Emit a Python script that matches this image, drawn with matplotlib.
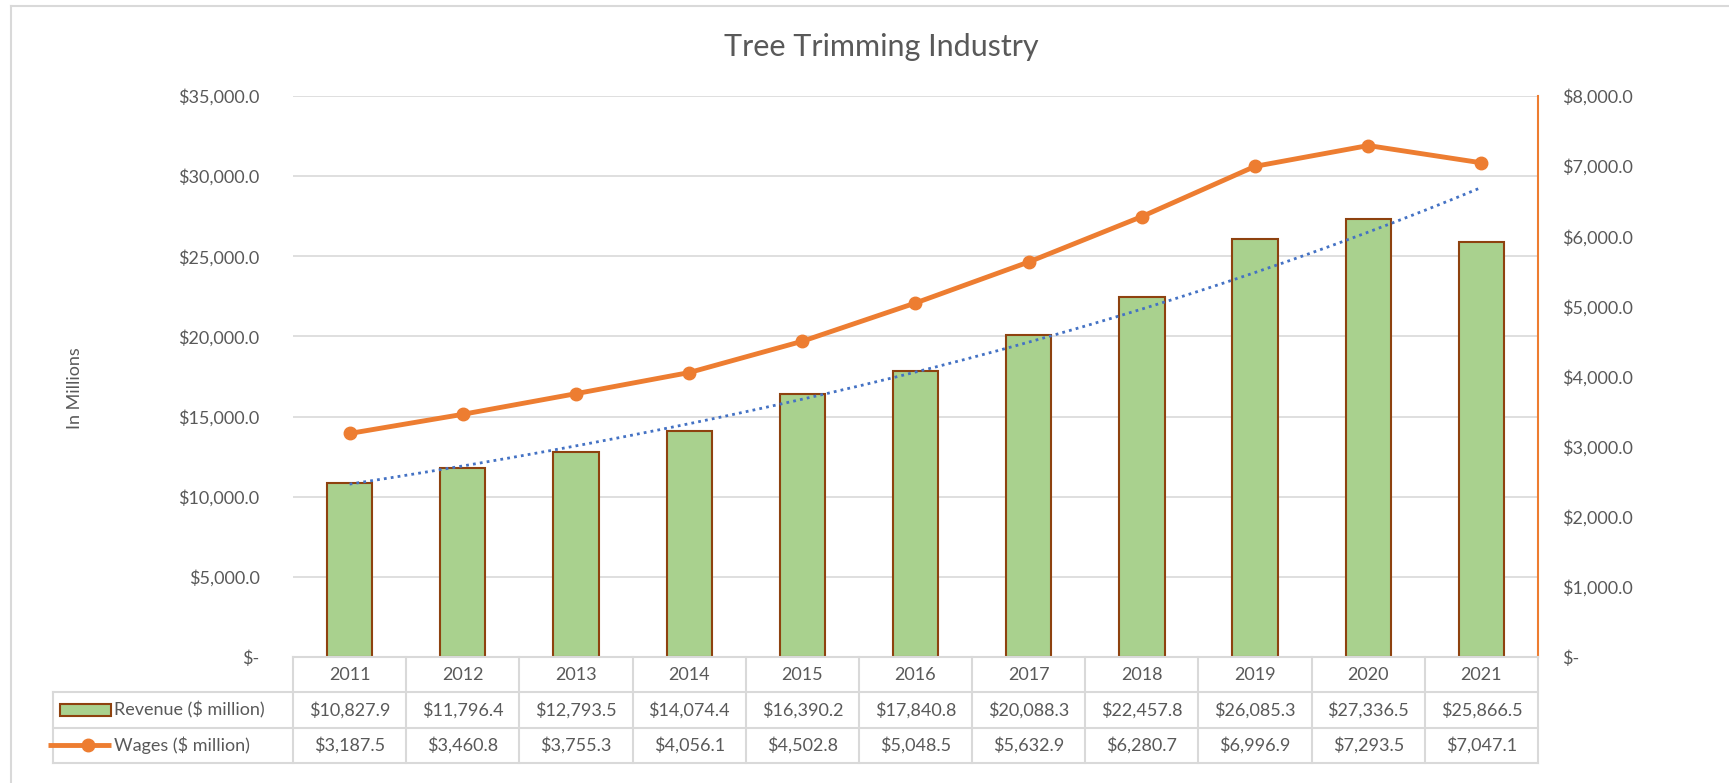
import numpy as np
import matplotlib.pyplot as plt
from matplotlib.lines import Line2D
from matplotlib.patches import Rectangle

plt.rcParams['font.family'] = ['Lato', 'DejaVu Sans']

years = ['2011', '2012', '2013', '2014', '2015', '2016', '2017', '2018', '2019', '2020', '2021']
revenue = [10827.9, 11796.4, 12793.5, 14074.4, 16390.2, 17840.8, 20088.3, 22457.8, 26085.3, 27336.5, 25866.5]
wages = [3187.5, 3460.8, 3755.3, 4056.1, 4502.8, 5048.5, 5632.9, 6280.7, 6996.9, 7293.5, 7047.1]

GREEN = '#A9D18E'
BROWN = '#8E420F'
ORANGE = '#ED7D31'
BLUE = '#4472C4'
GRID = '#D9D9D9'
TXT = '#595959'


def money(v):
    if v == 0:
        return '$-'
    return '${:,.1f}'.format(v)


W, H = 1729, 783
fig = plt.figure(figsize=(W / 100, H / 100), dpi=100)

# chart area outline (top and left edges)
fig.add_artist(Line2D([11 / W, 11 / W], [0, 1 - 6 / H], color=GRID, lw=1.5))
fig.add_artist(Line2D([11 / W, 1], [1 - 6 / H, 1 - 6 / H], color=GRID, lw=1.5))

left, right, top, bottom = 293, 1538, 96, 657
ax = fig.add_axes([left / W, 1 - bottom / H, (right - left) / W, (bottom - top) / H])
x = np.arange(len(years))

ax.bar(x, revenue, width=0.4, color=GREEN, edgecolor=BROWN, linewidth=1.5, zorder=2)

# exponential trendline on revenue
b, a = np.polyfit(x, np.log(revenue), 1)
xs = np.linspace(0, len(years) - 1, 200)
ax.plot(xs, np.exp(a + b * xs), color=BLUE, lw=2, ls=(0, (1, 1.5)), zorder=3)

ax.set_xlim(-0.5, len(years) - 0.5)
ax.set_ylim(0, 35000)
ax.set_yticks(np.arange(0, 35001, 5000))
ax.set_yticklabels([money(v) for v in np.arange(0, 35001, 5000)])
ax.set_xticks([])
ax.grid(axis='y', color=GRID, lw=1.2, zorder=0)
ax.set_axisbelow(True)
for s in ax.spines.values():
    s.set_visible(False)
ax.tick_params(axis='y', length=0, pad=24, labelsize=13, labelcolor=TXT)

ax2 = ax.twinx()
ax2.plot(x, wages, color=ORANGE, lw=3.5, marker='o', ms=9, zorder=4)
ax2.set_ylim(0, 8000)
ax2.set_yticks(np.arange(0, 8001, 1000))
ax2.set_yticklabels([money(v) for v in np.arange(0, 8001, 1000)])
for s in ax2.spines.values():
    s.set_visible(False)
ax2.spines['right'].set_visible(True)
ax2.spines['right'].set_color(ORANGE)
ax2.spines['right'].set_linewidth(1.5)
ax2.tick_params(axis='y', length=0, pad=17, labelsize=13, labelcolor=TXT)

fig.text(881 / W, 1 - 47 / H, 'Tree Trimming Industry', ha='center', va='center',
         fontsize=22, color=TXT)
fig.text(75 / W, 1 - 388 / H, 'In Millions', rotation=90, ha='center', va='center',
         fontsize=13, color=TXT)

# data table under the plot
tl, tb, tt = 53, 763, 657
colw = (right - left) / len(years)
lab_w = (left - tl) / colw
tab = fig.add_axes([tl / W, 1 - tb / H, (right - tl) / W, (tb - tt) / H])
tab.set_xlim(-0.5 - lab_w, len(years) - 0.5)
tab.set_ylim(0, 3)
tab.axis('off')

lk = dict(color=GRID, lw=1.5, clip_on=False)
x0, x1 = -0.5 - lab_w, len(years) - 0.5
tab.plot([-0.5, x1], [3, 3], **lk)
tab.plot([x0, x1], [2, 2], **lk)
tab.plot([x0, x1], [1, 1], **lk)
tab.plot([x0, x1], [0, 0], **lk)
tab.plot([x0, x0], [0, 2], **lk)
for i in range(len(years) + 1):
    tab.plot([i - 0.5, i - 0.5], [0, 3], **lk)

for i, yr in enumerate(years):
    tab.text(i, 2.5, yr, ha='center', va='center', fontsize=13, color=TXT)
    tab.text(i, 1.5, money(revenue[i]), ha='center', va='center', fontsize=13, color=TXT)
    tab.text(i, 0.5, money(wages[i]), ha='center', va='center', fontsize=13, color=TXT)

# legend keys in the label column
px = 1 / colw
tab.add_patch(Rectangle((x0 + 7 * px, 1.32), 51 * px, 0.36, facecolor=GREEN,
                        edgecolor=BROWN, lw=1.5, clip_on=False))
tab.plot([x0 - 5 * px, x0 + 58 * px], [0.5, 0.5], color=ORANGE, lw=3.5,
         clip_on=False, solid_capstyle='butt')
tab.plot([x0 + 35 * px], [0.5], 'o', color=ORANGE, ms=9, clip_on=False)
tab.text(x0 + 61 * px, 1.5, 'Revenue ($ million)', ha='left', va='center', fontsize=13, color=TXT)
tab.text(x0 + 61 * px, 0.5, 'Wages ($ million)', ha='left', va='center', fontsize=13, color=TXT)

fig.savefig('out.png', dpi=100, facecolor='white')
